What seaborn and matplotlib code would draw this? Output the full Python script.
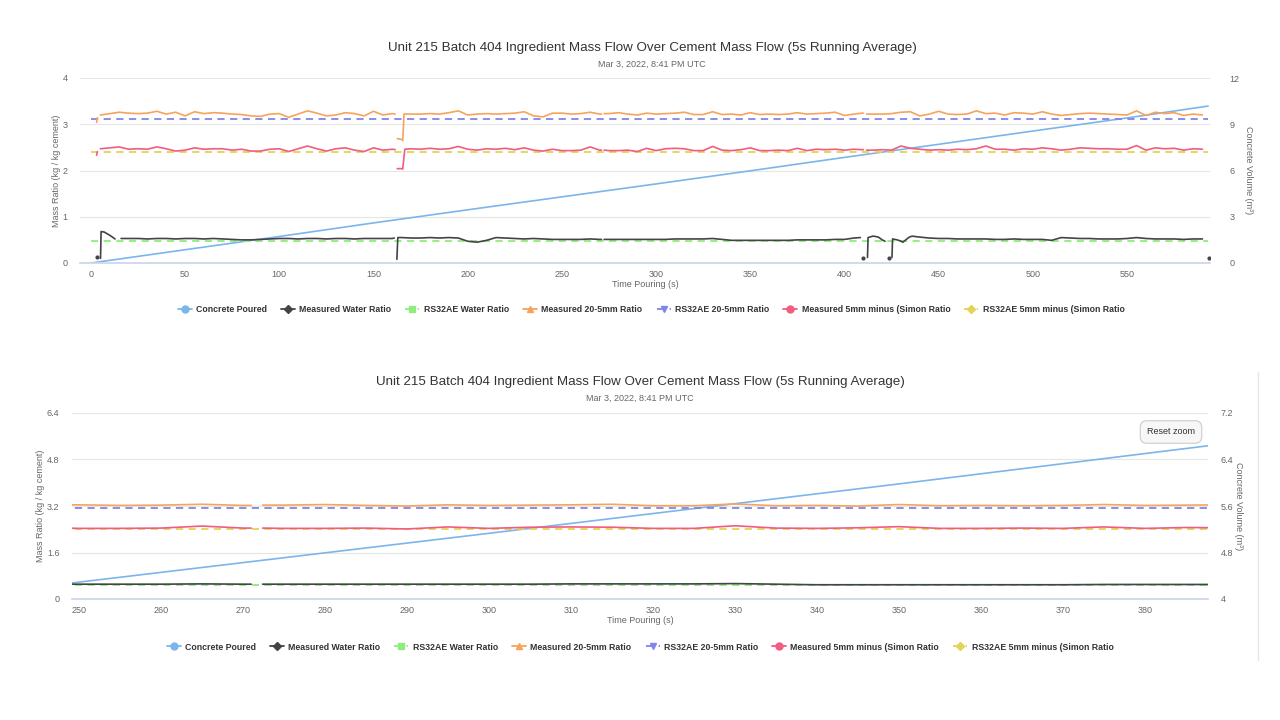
import numpy as np
import pandas as pd
import matplotlib.pyplot as plt
from matplotlib.lines import Line2D
from matplotlib.ticker import FuncFormatter
import seaborn as sns

nan = np.nan

# base samples every 5 s
t_grid = np.arange(5, 595, 5)

water = [nan, 0.60, nan, 0.53, 0.53, 0.52, 0.53, 0.53, 0.52, 0.53, 0.53, 0.52, 0.53, 0.52, 0.51, 0.50,
         0.50, 0.51, 0.52, 0.53, 0.53, 0.52, 0.53, 0.53, 0.52, 0.53, 0.53, 0.52, 0.53, 0.53, 0.53, 0.53,
         0.55, 0.54, 0.54, 0.55, 0.54, 0.55, 0.54, 0.47, 0.45, 0.49, 0.55, 0.54, 0.53, 0.52, 0.53, 0.52,
         0.51, 0.51, 0.51, 0.51, 0.52, 0.51, 0.51, 0.51, 0.51, 0.51, 0.51, 0.51, 0.51, 0.52, 0.52, 0.52,
         0.52, 0.53, 0.51, 0.49, 0.49, 0.49, 0.49, 0.49, 0.49, 0.49, 0.50, 0.50, 0.50, 0.50, 0.51, 0.51,
         0.54, nan, 0.58, 0.50, nan, 0.47, 0.57, 0.56, 0.54, 0.53, 0.53, 0.52, 0.52, 0.52, 0.52, 0.51,
         0.51, 0.52, 0.51, 0.51, 0.51, 0.49, 0.55, 0.54, 0.53, 0.53, 0.52, 0.52, 0.52, 0.53, 0.55, 0.53,
         0.52, 0.52, 0.52, 0.51, 0.52, 0.52]

agg_20_5 = [3.20, 3.23, 3.26, 3.24, 3.23, 3.24, 3.28, 3.22, 3.26, 3.18, 3.27, 3.23, 3.25, 3.24, 3.22, 3.21,
            3.18, 3.17, 3.22, 3.23, 3.15, 3.22, 3.29, 3.24, 3.18, 3.20, 3.25, 3.23, 3.18, 3.28, 3.20, 3.23,
            2.67, 3.22, 3.22, 3.23, 3.22, 3.25, 3.29, 3.20, 3.22, 3.23, 3.22, 3.23, 3.24, 3.27, 3.18, 3.16,
            3.24, 3.24, 3.22, 3.23, 3.26, 3.22, 3.23, 3.25, 3.22, 3.20, 3.24, 3.22, 3.23, 3.24, 3.26, 3.21,
            3.21, 3.27, 3.21, 3.22, 3.20, 3.25, 3.21, 3.22, 3.21, 3.22, 3.25, 3.22, 3.23, 3.24, 3.26, 3.19,
            3.22, 3.24, 3.22, 3.22, 3.23, 3.26, 3.27, 3.18, 3.22, 3.28, 3.22, 3.21, 3.22, 3.29, 3.23, 3.24,
            3.20, 3.25, 3.24, 3.22, 3.27, 3.22, 3.19, 3.21, 3.23, 3.24, 3.23, 3.22, 3.21, 3.20, 3.29, 3.19,
            3.26, 3.23, 3.25, 3.19, 3.22, 3.20]

sand_5 = [2.47, 2.49, 2.51, 2.46, 2.47, 2.46, 2.51, 2.47, 2.42, 2.44, 2.49, 2.46, 2.47, 2.47, 2.44, 2.46,
          2.42, 2.42, 2.46, 2.47, 2.41, 2.47, 2.53, 2.47, 2.42, 2.47, 2.49, 2.44, 2.41, 2.49, 2.44, 2.46,
          2.04, 2.47, 2.46, 2.48, 2.46, 2.47, 2.52, 2.46, 2.44, 2.47, 2.46, 2.48, 2.45, 2.49, 2.44, 2.42,
          2.46, 2.43, 2.43, 2.44, 2.51, 2.44, 2.43, 2.43, 2.44, 2.41, 2.48, 2.43, 2.47, 2.48, 2.47, 2.43,
          2.43, 2.52, 2.44, 2.43, 2.45, 2.49, 2.43, 2.43, 2.44, 2.43, 2.48, 2.43, 2.46, 2.45, 2.46, 2.44,
          2.46, 2.45, 2.44, 2.45, 2.44, 2.53, 2.48, 2.46, 2.44, 2.45, 2.44, 2.46, 2.45, 2.47, 2.53, 2.46,
          2.46, 2.44, 2.47, 2.46, 2.49, 2.47, 2.44, 2.46, 2.49, 2.48, 2.47, 2.47, 2.46, 2.46, 2.54, 2.44,
          2.49, 2.47, 2.48, 2.44, 2.47, 2.46]

# extra samples around start-up, dropouts and restarts
water_extra_t = [3.0, 4.0, 5.1, 5.4, 7.0, 12.8, 13.5, 16.0, 161.0, 161.8, 162.4, 162.9, 271.0, 271.7, 272.4,
                 408.4, 409.1, 409.8, 410.5, 412.2, 412.5, 415.5, 418.0, 421.5, 422.3, 423.5, 424.3, 425.2,
                 425.5, 428.0, 431.0, 434.0, 436.0, 591.5, 593.5]
water_extra_v = [0.12, nan, 0.10, 0.68, 0.67, 0.52, nan, 0.53, 0.54, nan, 0.08, 0.55, 0.51, nan, 0.51,
                 0.55, nan, 0.11, nan, 0.12, 0.55, 0.58, 0.56, 0.47, nan, 0.11, nan, 0.12,
                 0.52, 0.50, 0.45, 0.55, 0.58, nan, 0.10]

agg_extra_t = [3.0, 3.4, 4.0, 161.5, 162.0, 162.6, 165.5, 166.2, 271.0, 271.7, 272.4, 409.3, 410.5, 411.7]
agg_extra_v = [3.04, 3.14, nan, 3.22, nan, 2.69, 2.65, 3.22, 3.22, nan, 3.23, 3.24, nan, 3.22]

sand_extra_t = [3.0, 3.4, 4.0, 161.5, 162.0, 162.6, 165.5, 166.6, 271.0, 271.7, 272.4, 409.3, 410.5, 411.7]
sand_extra_v = [2.33, 2.41, nan, 2.45, nan, 2.04, 2.03, 2.46, 2.44, nan, 2.44, 2.45, nan, 2.44]

concrete_t = [0, 50, 100, 150, 200, 250, 300, 350, 400, 450, 500, 550, 593]
concrete_v = [0, 0.86, 1.72, 2.60, 3.45, 4.29, 5.13, 5.98, 6.85, 7.70, 8.56, 9.41, 10.18]

target_t = [0, 593]
rs_water = 0.47
rs_20_5 = 3.12
rs_5 = 2.41

labels = ["Concrete Poured", "Measured Water Ratio", "RS32AE Water Ratio", "Measured 20-5mm Ratio",
          "RS32AE 20-5mm Ratio", "Measured 5mm minus (Simon Ratio", "RS32AE 5mm minus (Simon Ratio"]
colors = ["#7cb5ec", "#434348", "#90ed7d", "#f7a35c", "#8085e9", "#f15c80", "#e4d354"]
markers = ["o", "D", "s", "^", "v", "o", "D"]

title = "Unit 215 Batch 404 Ingredient Mass Flow Over Cement Mass Flow (5s Running Average)"
subtitle = "Mar 3, 2022, 8:41 PM UTC"


def build(vals, extra_t, extra_v):
    df = pd.DataFrame({"t": np.concatenate([t_grid, extra_t]),
                       "v": np.concatenate([vals, extra_v])})
    df = df.sort_values("t", kind="stable").reset_index(drop=True)
    df["seg"] = df["v"].isna().cumsum()
    return df.dropna()


measured = [(build(water, water_extra_t, water_extra_v), colors[1]),
            (build(agg_20_5, agg_extra_t, agg_extra_v), colors[3]),
            (build(sand_5, sand_extra_t, sand_extra_v), colors[5])]
targets = [(rs_water, colors[2]), (rs_20_5, colors[4]), (rs_5, colors[6])]
conc = pd.DataFrame({"t": concrete_t, "v": concrete_v})

sns.set_theme(style="white")
plt.rcParams["font.family"] = ["Liberation Sans", "DejaVu Sans"]

fig = plt.figure(figsize=(12.8, 7.2), dpi=100)
fmt = FuncFormatter(lambda v, p: f"{v:g}")


def draw(rect, xlim, xticks, yticks, y2ticks, lpad, rpad, r_labelpad):
    ax2 = fig.add_axes(rect)
    ax = ax2.twinx()
    # ax: mass ratios on the left, ax2: concrete volume on the right
    ax.yaxis.tick_left()
    ax.yaxis.set_label_position("left")
    ax2.yaxis.tick_right()
    ax2.yaxis.set_label_position("right")
    ax.set_zorder(ax2.get_zorder() + 1)
    ax.patch.set_visible(False)

    sns.lineplot(data=conc, x="t", y="v", color=colors[0], lw=1.2, ax=ax2)
    for val, c in targets:
        sns.lineplot(x=target_t, y=[val, val], color=c, lw=1.3, linestyle=(0, (4, 3)), ax=ax)
    for df, c in measured:
        sns.lineplot(data=df, x="t", y="v", units="seg", estimator=None, color=c, lw=1.2, ax=ax)
        sizes = df.groupby("seg")["t"].transform("size")
        ax.scatter(df.loc[sizes == 1, "t"], df.loc[sizes == 1, "v"], s=4, color=c, zorder=3)

    ax.set_xlim(*xlim)
    ax.set_xticks(xticks)
    ax.set_ylim(yticks[0], yticks[-1])
    ax.set_yticks(yticks)
    ax2.set_ylim(y2ticks[0], y2ticks[-1])
    ax2.set_yticks(y2ticks)
    ax.yaxis.set_major_formatter(fmt)
    ax2.yaxis.set_major_formatter(fmt)

    ax.grid(False)
    ax2.grid(False)
    ax2.yaxis.grid(True, color="#e6e6e6", lw=0.8)
    for a in (ax, ax2):
        for s in a.spines.values():
            s.set_visible(False)
    ax2.spines["bottom"].set_visible(True)
    ax2.spines["bottom"].set_color("#ccd6eb")
    ax2.tick_params(axis="x", length=5, color="#ccd6eb", labelcolor="#666666", labelsize=6.5, pad=0)
    ax.tick_params(axis="y", length=0, labelcolor="#666666", labelsize=6.5, pad=lpad)
    ax2.tick_params(axis="y", length=0, labelcolor="#666666", labelsize=6.5, pad=rpad)

    ax2.set_xlabel("Time Pouring (s)", fontsize=6.5, color="#666666", labelpad=1)
    ax.set_ylabel("Mass Ratio (kg / kg cement)", fontsize=6.5, color="#666666", labelpad=1)
    ax2.set_ylabel("Concrete Volume (m³)", fontsize=6.5, color="#666666", rotation=270,
                   labelpad=r_labelpad)
    return ax, ax2


draw([80 / 1280, 1 - 263 / 720, 1130 / 1280, 185 / 720], (-5.8, 594), range(0, 600, 50),
     [0, 1, 2, 3, 4], [0, 3, 6, 9, 12], 9, 14, 10)
draw([72 / 1280, 1 - 599 / 720, 1136 / 1280, 186 / 720], (249.15, 387.7), range(250, 390, 10),
     [0, 1.6, 3.2, 4.8, 6.4], [4, 4.8, 5.6, 6.4, 7.2], 9, 9, 7)

for (cx, ty, sy) in [(652, 48, 64), (640, 382, 398)]:
    fig.text(cx / 1280, 1 - ty / 720, title, ha="center", va="center", fontsize=9.6, color="#333333")
    fig.text(cx / 1280, 1 - sy / 720, subtitle, ha="center", va="center", fontsize=6.5, color="#666666")

handles = [Line2D([0], [0], color=c, marker=m, markersize=4 if m == "D" else 5, lw=1.3,
                  linestyle=(0, (4, 3)) if lab.startswith("RS32AE") else "-")
           for c, m, lab in zip(colors, markers, labels)]
for cx, cy in [(651, 310), (640, 647)]:
    fig.legend(handles, labels, loc="center", bbox_to_anchor=(cx / 1280, 1 - cy / 720), ncol=7,
               frameon=False, prop={"weight": "bold", "size": 6.3}, labelcolor="#333333",
               handlelength=1.6, handletextpad=0.5, columnspacing=1.6)

fig.text(1171 / 1280, 1 - 432 / 720, "Reset zoom", ha="center", va="center", fontsize=6.5, color="#333333",
         bbox=dict(boxstyle="round,pad=0.75", fc="#f7f7f7", ec="#cccccc", lw=0.8))
fig.add_artist(Line2D([1258 / 1280] * 2, [1 - 372 / 720, 1 - 660 / 720], color="#e6e6e6", lw=1))

fig.savefig("out.png", dpi=100, facecolor="white")
